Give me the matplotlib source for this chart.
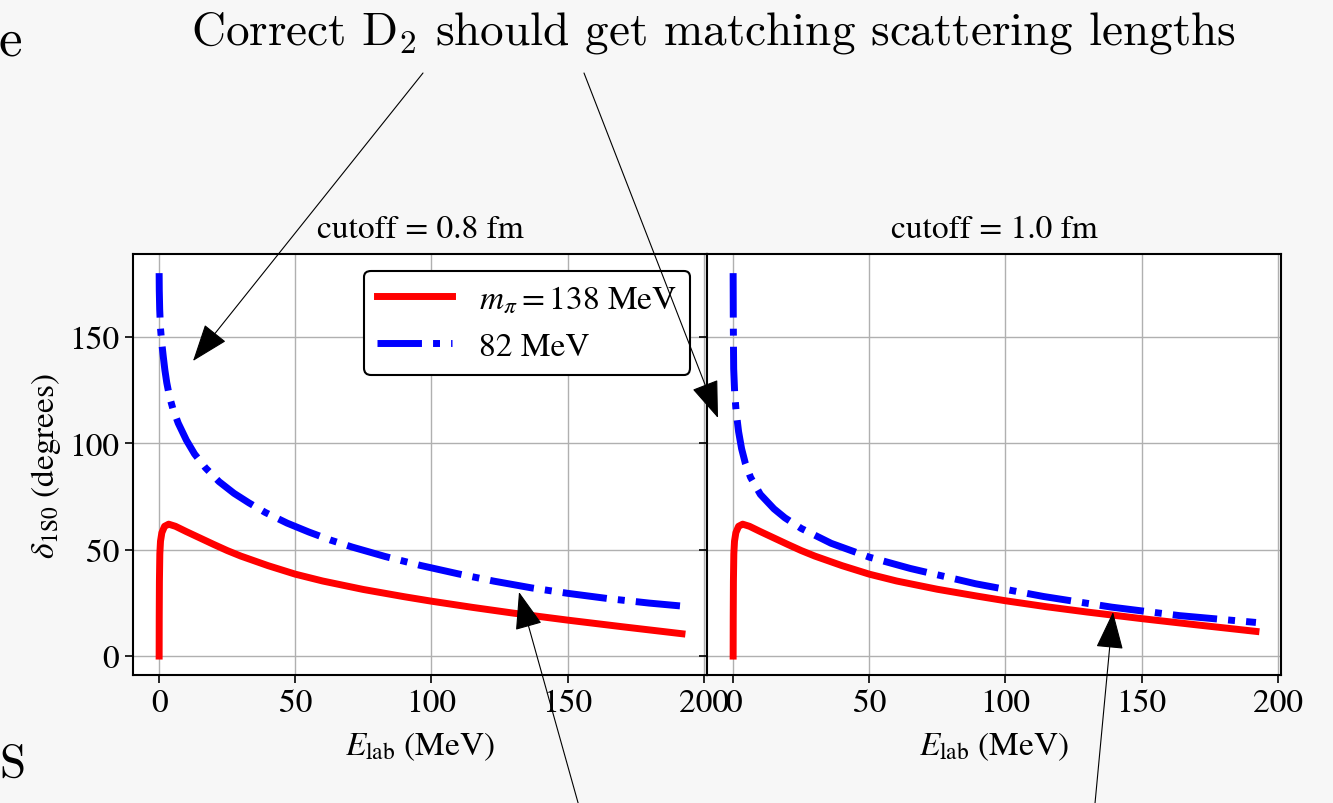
import matplotlib
matplotlib.use('Agg')
import matplotlib.pyplot as plt
from matplotlib.patches import FancyArrowPatch

# phase shifts (E_lab in MeV, delta in degrees)
E_RED_08 = [0, 0.03, 0.1, 0.25, 0.5, 1, 2, 3.5, 6, 10, 15, 20, 25, 30, 40, 50, 60, 75, 90, 100, 115, 130, 150, 170, 192]
D_RED_08 = [0, 18, 35, 48, 54, 58, 61, 62, 61, 58.5, 55.5, 52.5, 49.6, 47, 42.5, 38.5, 35.3, 31.3, 27.9, 25.8, 22.9, 20.2, 16.9, 13.8, 10.5]
E_BLUE_08 = [0, 0.05, 0.2, 0.5, 0.9, 1.5, 2.1, 2.8, 3.8, 5, 7, 10, 13, 17, 22, 27.5, 33, 39, 47, 55, 63, 71, 83, 96, 110, 123, 137, 150, 165, 180, 192]
D_BLUE_08 = [180, 172, 163, 154, 148, 141, 134.5, 128.5, 122, 116.5, 109.5, 101.5, 95, 88.5, 82, 76.5, 72, 67.5, 62.5, 58.3, 54.5, 51.2, 46.8, 42.6, 38.6, 35.2, 32, 29.5, 27, 24.9, 23.5]

E_RED_10 = [0, 0.03, 0.1, 0.25, 0.5, 1, 2, 3.5, 6, 10, 15, 20, 25, 30, 40, 50, 60, 75, 90, 100, 115, 130, 150, 170, 192]
D_RED_10 = [0, 18, 35, 48, 54, 58, 61, 62, 61, 58.5, 55.5, 52.5, 49.6, 47, 42.5, 38.5, 35.3, 31.4, 28.1, 26, 23.2, 20.7, 17.6, 14.7, 11.6]
E_BLUE_10 = [0, 0.05, 0.12, 0.2, 0.55, 1.1, 2, 3.1, 4.5, 6.4, 10, 15, 19, 25, 36, 50, 65, 89, 114, 139, 164, 192]
D_BLUE_10 = [180, 160, 146, 135, 124, 115, 105.5, 97.5, 90.5, 84, 76, 69.2, 65, 60, 53, 46.5, 41.2, 34, 28, 23, 19, 15.8]

CUTOFFS = ['cutoff = 0.8 fm', 'cutoff = 1.0 fm']
LABELS = [r'$m_\pi = 138$ MeV', '82 MeV']

W, H = 1333, 804
FS = 24

plt.rcParams['font.family'] = ['STIXGeneral', 'DejaVu Sans']
plt.rcParams['mathtext.fontset'] = 'stix'


def fpos(x, y):
    # pixel position (from top-left) -> figure fraction
    return (x / W, 1 - y / H)


fig = plt.figure(figsize=(W / 100, H / 100), dpi=100, facecolor='#f7f7f7')
ax1 = fig.add_axes([133 / W, 128 / H, 574 / W, 421 / H])
ax2 = fig.add_axes([707 / W, 128 / H, 574 / W, 421 / H], sharey=ax1)

series = [(E_RED_08, D_RED_08, E_BLUE_08, D_BLUE_08), (E_RED_10, D_RED_10, E_BLUE_10, D_BLUE_10)]
for ax, (er, dr, eb, db), title in zip([ax1, ax2], series, CUTOFFS):
    ax.plot(er, dr, color='red', lw=5, label=LABELS[0])
    ax.plot(eb, db, color='blue', lw=5, ls='-.', label=LABELS[1])
    ax.grid(True, color='#b0b0b0', lw=1.0)
    ax.set_axisbelow(True)
    ax.set_xticks([0, 50, 100, 150, 200])
    ax.set_yticks([0, 50, 100, 150])
    ax.tick_params(labelsize=FS, length=6, width=1.2, direction='out', pad=4)
    ax.set_title(title, fontsize=FS, pad=12)
    ax.set_xlabel(r'$E_{\rm lab}$ (MeV)', fontsize=FS, labelpad=8)
    for sp in ax.spines.values():
        sp.set_linewidth(1.5)
    ax.set_facecolor('white')

ax2.tick_params(labelleft=False)
ax1.set_ylabel(r'$\delta_{\rm 1S0}$ (degrees)', fontsize=FS)
ax1.set_xlim(-9.6, 201.2)
ax2.set_xlim(-9.6, 201.2)
ax1.set_ylim(-8.9, 189)

leg = ax1.legend(loc='upper right', fontsize=FS, handlelength=2.25, framealpha=1,
                 edgecolor='black', fancybox=True, borderaxespad=0.5)
leg.get_frame().set_linewidth(1.5)

# slide text
fig.text(*fpos(713, 44), r'Correct D$_2$ should get matching scattering lengths',
         family='cmr10', math_fontfamily='cm', fontsize=34, ha='center', va='baseline')
fig.text(*fpos(-1, 55), 'e', family='cmr10', fontsize=38, ha='left', va='baseline')
fig.text(*fpos(-1, 777), 'S', family='cmr10', fontsize=34, ha='left', va='baseline')

# arrows
arrows = [((423, 74), (193, 362)), ((584, 74), (718, 419)),
          ((605, 900), (519, 593)), ((1086, 900), (1113, 613))]
for start, tip in arrows:
    arr = FancyArrowPatch(fpos(*start), fpos(*tip), transform=fig.transFigure,
                          arrowstyle='-|>,head_length=0.6,head_width=0.22',
                          mutation_scale=40, color='black', lw=0.8,
                          shrinkA=0, shrinkB=0, zorder=10)
    fig.add_artist(arr)

fig.savefig('out.png', dpi=100, facecolor=fig.get_facecolor())
